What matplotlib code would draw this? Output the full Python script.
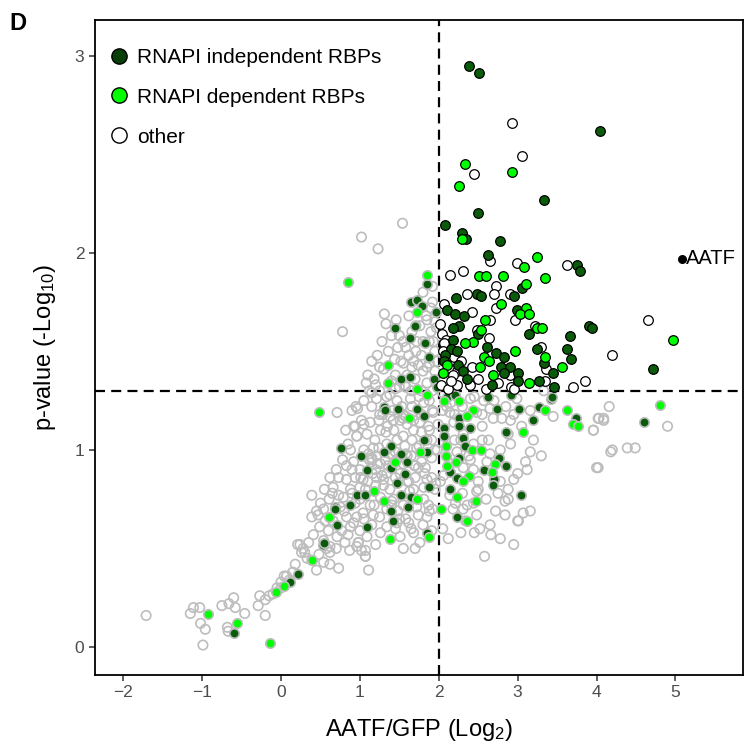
import matplotlib
matplotlib.use("Agg")
import matplotlib.pyplot as plt
from matplotlib.lines import Line2D
import numpy as np

plt.rcParams["font.family"] = ["Liberation Sans", "DejaVu Sans"]
plt.rcParams["mathtext.default"] = "regular"

# enrichment (log2 AATF/GFP) and significance (-log10 p) per protein
indep_x = [2.38, 2.51, 4.04, 3.34, 2.50, 2.08, 2.29, 2.35, 2.77, 2.62, 3.75, 3.79, 3.05, 2.22, 2.48,
           2.54, 2.95, 2.11, 2.20, 2.32, 2.99, 2.26, 2.18, 2.50, 3.15, 3.66, 3.90, 3.94, 2.18, 2.61,
           2.15, 2.23, 3.24, 3.63, 2.73, 2.83, 2.08, 2.06, 2.24, 3.33, 3.67, 2.79, 2.90, 3.45, 2.31,
           2.83, 3.01, 2.36, 2.67, 3.01, 3.27, 3.46, 4.72,
           1.85, 1.65, 1.72, 1.79, 1.96, 1.44, 1.70, 1.63, 1.83, 1.88, 1.52, 1.64, 1.94, 1.98, 1.30,
           1.32, 1.72, 1.48, 1.81, 0.76, 1.81, 1.85, 1.52, 1.39, 1.30, 1.60, 1.40, 1.02, 1.09, 1.57,
           1.47, 0.96, 1.06, 0.88, 1.52, 1.65, 1.88, 1.39, 1.42, 1.61, 0.68, 0.71, 1.09, 1.85, 0.53,
           0.69, 0.54, 0.21, 0.11, -0.59,
           2.63, 2.91, 2.74, 3.02, 3.27, 3.42, 3.74, 3.20, 2.25, 2.26, 2.40, 2.85, 2.06, 2.06, 2.31,
           2.33, 2.26, 2.76, 2.85, 2.57, 2.14, 2.23, 2.70, 2.69, 2.14, 3.04, 2.23, 4.60, 3.44, 2.10,
           2.20]
indep_y = [2.95, 2.91, 2.62, 2.27, 2.20, 2.14, 2.10, 2.07, 2.06, 1.99, 1.94, 1.91, 1.82, 1.77, 1.79,
           1.78, 1.78, 1.71, 1.69, 1.68, 1.71, 1.63, 1.62, 1.59, 1.59, 1.58, 1.63, 1.62, 1.56, 1.52,
           1.51, 1.50, 1.51, 1.51, 1.49, 1.47, 1.48, 1.45, 1.43, 1.44, 1.46, 1.42, 1.42, 1.39, 1.40,
           1.39, 1.39, 1.36, 1.33, 1.35, 1.35, 1.32, 1.41,
           1.84, 1.75, 1.76, 1.73, 1.70, 1.62, 1.63, 1.57, 1.54, 1.47, 1.36, 1.37, 1.36, 1.32, 1.22,
           1.20, 1.21, 1.21, 1.17, 1.01, 1.05, 0.99, 0.98, 1.02, 0.99, 0.94, 0.91, 0.97, 0.90, 0.88,
           0.83, 0.77, 0.77, 0.72, 0.77, 0.76, 0.81, 0.69, 0.64, 0.71, 0.71, 0.62, 0.61, 0.58, 0.52,
           0.70, 0.53, 0.37, 0.33, 0.07,
           1.27, 1.28, 1.21, 1.21, 1.22, 1.26, 1.16, 1.15, 1.16, 1.12, 1.11, 1.09, 1.11, 1.07, 1.06,
           1.02, 0.96, 0.96, 0.92, 0.90, 0.89, 0.86, 0.85, 0.82, 0.80, 0.77, 0.66, 1.14, 1.27, 1.27,
           1.28]

dep_x = [2.33, 2.93, 2.25, 2.29, 3.24, 3.08, 2.51, 2.60, 2.81, 3.35, 3.11, 2.79, 3.11, 3.03, 3.15,
         2.58, 3.25, 3.31, 2.53, 2.43, 2.33, 2.96, 2.57, 2.64, 3.35, 2.10, 2.52, 3.56, 2.05, 2.69,
         3.14, 4.97,
         1.85, 1.73, 0.85, 1.36, 1.35, 1.85, 1.72, 0.48, 1.62, 1.76, 1.44, 1.18, 1.30, 1.73, 0.61,
         1.38, 1.87, 0.39, -0.06, 0.04, -0.92, -0.56, -0.14,
         2.06, 2.26, 2.43, 3.35, 3.62, 3.70, 3.77, 2.36, 3.07, 2.09, 2.42, 2.53, 2.09, 2.22, 2.71,
         2.11, 2.68, 2.38, 2.31, 2.23, 2.47, 2.03, 2.36, 4.81]
dep_y = [2.45, 2.41, 2.34, 2.07, 1.98, 1.93, 1.88, 1.88, 1.88, 1.87, 1.84, 1.74, 1.72, 1.69, 1.69,
         1.66, 1.62, 1.62, 1.61, 1.55, 1.54, 1.50, 1.47, 1.45, 1.47, 1.43, 1.42, 1.42, 1.39, 1.38,
         1.34, 1.56,
         1.89, 1.70, 1.85, 1.43, 1.34, 1.28, 1.31, 1.19, 1.16, 0.99, 0.94, 0.79, 0.74, 0.75, 0.66,
         0.55, 0.56, 0.44, 0.28, 0.31, 0.17, 0.12, 0.02,
         1.25, 1.25, 1.20, 1.20, 1.20, 1.13, 1.12, 1.17, 1.09, 1.02, 1.00, 1.00, 0.97, 0.94, 0.93,
         0.92, 0.89, 0.87, 0.84, 0.76, 0.74, 0.70, 0.64, 1.23]

other_x = [2.93, 3.05, 2.45, 2.65, 2.99, 3.63, 2.14, 2.31, 2.72, 2.36, 2.70, 2.90, 2.06, 2.42, 2.72,
           2.65, 2.97, 2.04, 3.22, 2.48, 2.09, 2.64, 2.06, 3.30, 2.19, 4.19, 2.42, 3.36, 2.23, 2.90,
           2.91, 3.35, 3.85, 2.23, 4.65, 2.03, 2.12, 2.18, 2.28, 2.40, 2.50, 2.60, 2.75, 2.95, 2.02,
           2.05, 3.70, 2.15,
           # lower tail
           -1.71, -1.15, -1.11, -1.03, -1.02, -0.96, -0.99, -0.75, -0.66, -0.60, -0.58, -0.46, -0.68,
           -0.67, -0.29, -0.27, -0.20, -0.15, -0.20, -0.10, -0.05, 0.00, 0.04, 0.07, 0.11, 0.00, 0.15,
           0.18, 0.21, 0.28, 0.26, 0.39, 0.45, 0.54, 0.62, 0.73, 0.33, 0.48, 1.11, 1.07, 1.02, 0.98,
           # main cloud
           0.39, 0.61, 0.39, 0.79, 0.73, 0.83, 0.92, 1.00, 1.19, 1.17, 1.26, 1.47, 1.74, 1.83, 1.70,
           1.85, 1.81, 1.30, 1.38, 1.68, 1.81, 1.87, 1.74, 1.85, 1.62, 1.26, 1.09, 0.98, 0.87, 1.07,
           0.62, 0.24, 0.30, 0.77, 0.88, 0.96, 1.04, 1.13, 1.34, 0.83, 0.94, 1.00, 1.07, 0.88, 0.73,
           0.54, 0.47, 0.56, 0.66, 0.49, 0.60, 0.71, 0.41, 0.35, 0.54, 0.62, 0.81, 0.96, 1.07,
           1.21, 1.34, 1.47, 1.53, 1.66, 1.64, 1.26, 1.43, 1.55, 1.68, 1.34, 1.47, 1.66, 1.85, 1.91,
           1.13, 1.09, 1.38, 1.51, 1.76, 1.87, 1.93, 1.81, 1.57, 1.72, 1.21, 1.11, 1.38, 1.60, 1.91,
           1.34, 1.21, 1.51, 1.62, 1.91, 1.26, 1.43, 1.55, 1.72, 1.17, 1.47, 1.34, 1.68, 1.51, 1.76,
           1.91, 1.00, 0.83, 0.94, 0.75, 0.66, 0.85, 0.96, 0.92, 0.71, 0.95, 0.97, 0.94, 0.96,
           1.29, 1.22, 1.16, 1.04, 1.42, 1.58, 1.78, 1.96, 1.98, 1.60, 1.45, 1.12, 1.28, 1.50, 1.69,
           1.55, 1.99, 1.05, 1.24, 1.40, 1.63, 1.78, 1.88, 1.15, 1.36, 1.58, 1.33, 0.90, 1.01, 1.20,
           1.05, 1.12, 1.18, 1.25, 1.08, 1.15, 1.38, 1.45, 1.52, 1.58, 1.65, 1.75, 1.88, 1.92, 1.78,
           1.68, 1.55, 1.42, 1.35, 1.25, 1.02, 0.90, 0.82, 0.88, 1.05, 1.15, 1.24, 1.32, 1.45, 1.55,
           1.65, 1.75, 1.88, 1.95, 1.95, 1.82, 1.70, 1.60, 1.45, 1.30, 1.20, 1.10, 1.00, 0.90, 0.78,
           0.70, 0.62, 0.55, 0.50, 0.45, 0.65, 0.80, 0.92, 1.05, 1.18, 1.25, 1.40, 1.48, 1.58, 1.65,
           1.80, 1.92, 1.70, 1.55, 1.20, 1.15, 0.85, 0.70, 0.58,
           # upper part left of the cut-off
           1.31, 1.46, 1.33, 1.76, 1.66, 1.71, 1.71, 1.36, 1.44, 1.55, 1.68, 1.74, 1.30, 1.92, 1.90,
           1.84, 1.85, 0.78, 1.02, 1.23, 1.54, 1.40, 1.50, 1.60, 1.80, 1.85, 1.70, 1.20, 1.10, 1.58,
           1.62, 1.80, 1.95, 1.90, 1.95, 1.50, 1.25, 1.93, 1.88, 1.97, 1.78, 1.57, 1.15, 1.45, 1.98,
           1.62, 1.55, 1.48, 1.78, 1.88, 1.95, 1.92, 1.80, 1.72, 1.66, 1.85, 1.92, 1.40, 1.28, 1.22,
           1.15,
           # right of the cut-off, not significant
           3.16, 3.45, 3.96, 4.02, 4.09, 4.18, 4.00, 3.16, 3.10, 3.00, 2.88, 2.88, 2.84, 2.72, 2.84,
           3.07, 3.16, 3.00, 2.12, 2.55, 2.63, 2.78, 2.91, 2.88, 2.80, 2.91, 2.65, 2.48, 2.34, 2.44,
           2.31, 2.21, 2.14, 2.48, 2.44, 2.61, 2.78, 2.50, 2.06, 2.14, 2.19, 2.31, 2.44, 2.23, 2.38,
           2.14, 2.31, 2.48, 2.36, 2.69, 2.57, 2.40, 2.99, 3.33, 2.58, 3.01, 4.16, 4.03, 4.09, 3.96,
           4.90, 4.20, 4.39, 4.49, 4.02, 2.05, 2.10, 2.20, 2.28, 2.52, 2.66, 2.95, 3.12, 2.02, 2.18,
           2.05, 2.15, 2.30, 2.45, 2.55, 2.70, 2.85, 2.95, 3.05, 2.20, 2.40, 2.55, 2.65, 2.50, 2.60,
           2.75, 2.95, 2.30, 2.18, 2.05, 2.28, 2.45, 2.65, 2.78, 3.20, 3.30]
other_y = [2.66, 2.49, 2.40, 1.96, 1.95, 1.94, 1.89, 1.91, 1.83, 1.79, 1.79, 1.79, 1.74, 1.70, 1.72,
           1.66, 1.66, 1.59, 1.63, 1.61, 1.56, 1.57, 1.54, 1.52, 1.47, 1.48, 1.42, 1.41, 1.40, 1.38,
           1.32, 1.35, 1.35, 1.33, 1.66, 1.33, 1.31, 1.38, 1.45, 1.33, 1.36, 1.31, 1.34, 1.31, 1.64,
           1.50, 1.32, 1.35,
           0.16, 0.17, 0.20, 0.20, 0.12, 0.09, 0.01, 0.21, 0.22, 0.25, 0.20, 0.17, 0.10,
           0.08, 0.21, 0.26, 0.24, 0.26, 0.16, 0.27, 0.30, 0.33, 0.36, 0.36, 0.34, 0.30, 0.38,
           0.42, 0.52, 0.50, 0.48, 0.44, 0.39, 0.43, 0.42, 0.40, 0.45, 0.47, 0.39, 0.46, 0.49, 0.53,
           0.77, 0.75, 0.66, 0.76, 0.86, 0.92, 0.94, 0.90, 1.05, 1.01, 0.93, 0.95, 0.91, 0.91, 0.86,
           0.85, 0.81, 0.82, 0.80, 0.80, 0.75, 0.72, 0.67, 0.66, 0.63, 0.58, 0.56, 0.53, 0.49, 0.46,
           0.48, 0.52, 0.48, 0.59, 0.61, 0.66, 0.68, 0.72, 0.70, 0.85, 0.86, 0.81, 0.80, 0.80, 0.77,
           0.70, 0.67, 0.64, 0.64, 0.61, 0.59, 0.56, 0.57, 0.53, 0.54, 0.51, 0.53, 0.51, 0.49,
           1.26, 1.27, 1.25, 1.22, 1.22, 1.26, 1.10, 1.10, 1.07, 1.10, 1.03, 1.05, 1.05, 1.05, 1.05,
           1.14, 1.08, 1.17, 1.15, 1.14, 1.12, 1.19, 1.24, 1.02, 1.01, 0.97, 0.98, 0.98, 0.97, 0.96,
           0.88, 0.86, 0.88, 0.84, 0.86, 0.76, 0.75, 0.72, 0.71, 0.67, 0.63, 0.61, 0.58, 0.56, 0.53,
           0.59, 0.59, 0.66, 0.73, 0.71, 0.81, 1.03, 1.07, 1.12, 1.19, 1.22, 1.21, 1.12, 1.07,
           1.18, 0.93, 0.88, 0.85, 1.20, 0.98, 1.09, 0.83, 1.00, 1.13, 0.60, 0.95, 0.87, 0.65, 0.92,
           1.16, 1.13, 1.13, 1.15, 0.74, 0.79, 0.94, 0.69, 0.96, 0.92, 1.17, 1.09, 0.78, 0.86, 0.82,
           1.25, 1.30, 1.36, 1.42, 1.34, 1.22, 1.28, 1.38, 1.45, 1.32, 1.30, 1.27, 1.25, 1.20, 1.18,
           1.15, 1.18, 1.15, 1.12, 1.18, 1.15, 1.20, 1.10, 1.00, 1.00, 0.95, 1.01, 0.95, 0.99, 0.93,
           0.97, 1.02, 1.10, 1.00, 0.80, 0.88, 0.92, 0.84, 0.86, 0.85, 0.90, 0.84, 0.75, 0.90, 0.95,
           0.90, 0.86, 0.80, 0.73, 0.69, 0.78, 0.69, 0.63, 0.65, 0.72, 0.66, 0.72, 0.69, 0.65, 0.60,
           0.62, 0.70, 0.50, 0.50, 0.52, 0.62, 0.57, 0.50, 0.50,
           1.69, 1.66, 1.64, 1.63, 1.60, 1.63, 1.50, 1.50, 1.46, 1.44, 1.45, 1.43, 1.41, 1.83, 1.72,
           1.68, 1.66, 1.60, 2.08, 2.02, 2.15, 1.35, 1.32, 1.38, 1.40, 1.34, 1.36, 1.33, 1.38, 1.52,
           1.48, 1.55, 1.50, 1.60, 1.40, 1.58, 1.30, 1.55, 1.44, 1.62, 1.30, 1.33, 1.29, 1.31, 1.45,
           1.68, 1.55, 1.52, 1.48, 1.55, 1.65, 1.75, 1.80, 1.55, 1.42, 1.42, 1.30, 1.58, 1.55, 1.48,
           1.45,
           1.20, 1.17, 1.10, 1.16, 1.15, 0.99, 0.91, 0.99, 0.94, 0.88, 0.80, 0.75, 0.74, 0.69, 0.67,
           0.68, 0.69, 0.64, 0.55, 1.12, 1.05, 1.00, 1.03, 1.08, 1.16, 1.15, 1.21, 1.19, 0.64, 0.73,
           0.70, 0.73, 0.77, 0.79, 0.90, 0.94, 0.84, 0.84, 0.87, 1.19, 1.14, 1.08, 1.03, 0.99, 0.97,
           0.93, 0.91, 0.67, 0.72, 1.16, 1.25, 1.26, 1.26, 1.30, 0.46, 0.64, 1.22, 1.16, 1.16, 1.10,
           1.12, 1.00, 1.01, 1.01, 0.91, 1.29, 1.22, 1.18, 1.05, 0.60, 0.57, 0.52, 0.90, 0.84, 1.28,
           1.20, 1.24, 1.22, 1.27, 1.18, 1.25, 1.22, 1.18, 1.12, 1.05, 0.95, 1.05, 0.98, 0.80, 0.75,
           0.78, 0.85, 0.78, 0.70, 0.60, 0.58, 0.58, 0.62, 0.55, 1.05, 0.97]

aatf_x, aatf_y = 5.08, 1.97
fc_cut, p_cut = 2.0, 1.3

x_ticks = [-2, -1, 0, 1, 2, 3, 4, 5]
y_ticks = [0, 1, 2, 3]

DARK = "#0a5c0a"
BRIGHT = "#00ff00"
GREY_EDGE = "#bdbdbd"


def split(xs, ys):
    xs, ys = np.asarray(xs), np.asarray(ys)
    sig = (xs > fc_cut) & (ys > p_cut)
    return xs, ys, sig


fig = plt.figure(figsize=(7.47, 7.5), dpi=100)
ax = fig.add_axes([0.127, 0.1, 0.868, 0.873])

# background proteins: grey rings when not significant, black rings when significant
ox, oy, osig = split(other_x, other_y)
ax.scatter(ox[~osig], oy[~osig], s=46, facecolors="none", edgecolors=GREY_EDGE, linewidths=1.2, zorder=2)

for xs, ys, col in [(indep_x, indep_y, DARK), (dep_x, dep_y, BRIGHT)]:
    px, py, psig = split(xs, ys)
    ax.scatter(px[~psig], py[~psig], s=46, c=col, edgecolors=GREY_EDGE, linewidths=1.2, zorder=3)

ax.scatter(ox[osig], oy[osig], s=48, facecolors="white", edgecolors="black", linewidths=0.9, zorder=4)
for xs, ys, col in [(indep_x, indep_y, DARK), (dep_x, dep_y, BRIGHT)]:
    px, py, psig = split(xs, ys)
    ax.scatter(px[psig], py[psig], s=48, c=col, edgecolors="black", linewidths=0.9, zorder=5)

ax.scatter([aatf_x], [aatf_y], s=30, c="black", zorder=6)
ax.text(aatf_x + 0.05, aatf_y, "AATF", fontsize=14.5, va="center", ha="left", zorder=6)

ax.axvline(fc_cut, color="black", lw=1.6, ls=(0, (4.5, 2.8)), zorder=1)
ax.axhline(p_cut, color="black", lw=1.6, ls=(0, (4.5, 2.8)), zorder=1)

ax.set_xlim(-2.36, 5.86)
ax.set_ylim(-0.142, 3.18)
ax.set_xticks(x_ticks)
ax.set_xticklabels([f"\u2212{-t}" if t < 0 else str(t) for t in x_ticks])
ax.set_yticks(y_ticks)
ax.tick_params(axis="both", labelsize=12.5, labelcolor="#4d4d4d", color="#333333",
               length=4, width=1.1, direction="out")
for sp in ax.spines.values():
    sp.set_linewidth(1.3)
    sp.set_color("black")

ax.set_xlabel("AATF/GFP (Log$_2$)", fontsize=17, labelpad=12)
ax.set_ylabel("p-value (-Log$_{10}$)", fontsize=17, labelpad=12)

handles = [
    Line2D([], [], ls="none", marker="o", markersize=11, markerfacecolor="#053f05",
           markeredgecolor="black", markeredgewidth=1.0, label="RNAPI independent RBPs"),
    Line2D([], [], ls="none", marker="o", markersize=11, markerfacecolor=BRIGHT,
           markeredgecolor="black", markeredgewidth=1.0, label="RNAPI dependent RBPs"),
    Line2D([], [], ls="none", marker="o", markersize=11, markerfacecolor="white",
           markeredgecolor="black", markeredgewidth=1.0, label="other"),
]
ax.legend(handles=handles, loc="upper left", bbox_to_anchor=(-0.005, 0.98), frameon=False,
          fontsize=15, handletextpad=0.3, labelspacing=1.0, borderaxespad=0.3,
          handlelength=1.2)

fig.text(0.012, 0.968, "D", fontsize=17, fontweight="bold", ha="left", va="center")

fig.savefig("out.png", dpi=100)
